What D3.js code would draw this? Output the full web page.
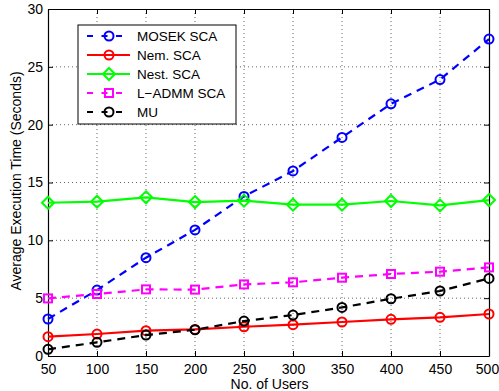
<!DOCTYPE html>
<html lang="en">
<head>
<meta charset="utf-8">
<script src="https://cdn.jsdelivr.net/npm/d3@7"></script>
<style>
	body { margin: 0; background: #fff; }
	text { font-family: "Liberation Sans", Arial, sans-serif; }
</style>
</head>
<body>
<svg id="chart" width="499" height="391"></svg>
<script>
	// users on the x axis
	var users = [50, 100, 150, 200, 250, 300, 350, 400, 450, 500];

	// average execution time (seconds) per method
	var mosek = [3.2, 5.7, 8.5, 10.9, 13.8, 16.0, 18.9, 21.8, 23.9, 27.4];
	var nem = [1.67, 1.9, 2.19, 2.3, 2.53, 2.71, 2.94, 3.17, 3.34, 3.63];
	var nest = [13.25, 13.34, 13.72, 13.31, 13.43, 13.08, 13.08, 13.4, 13.02, 13.48];
	var ladmm = [4.98, 5.36, 5.76, 5.74, 6.19, 6.37, 6.77, 7.09, 7.29, 7.66];
	var mu = [0.58, 1.18, 1.81, 2.27, 3.02, 3.54, 4.2, 4.95, 5.62, 6.71];

	var yTicks = [0, 5, 10, 15, 20, 25, 30];

	var series = [
		{name: "MOSEK SCA", values: mosek, color: "#0000ff", dash: true, marker: "circle"},
		{name: "Nem. SCA", values: nem, color: "#ff0000", dash: false, marker: "circle"},
		{name: "Nest. SCA", values: nest, color: "#00ff00", dash: false, marker: "diamond"},
		{name: "L\u2212ADMM SCA", values: ladmm, color: "#ff00ff", dash: true, marker: "square"},
		{name: "MU", values: mu, color: "#000000", dash: true, marker: "circle"}
	];

	var svg = d3.select("#chart");
	var margin = {top: 9, right: 10, bottom: 35, left: 48};
	var width = 499 - margin.left - margin.right;
	var height = 391 - margin.top - margin.bottom;

	var g = svg.append("g")
		.attr("transform", "translate(" + margin.left + "," + margin.top + ")");

	var x = d3.scaleLinear().domain([50, 500]).range([0, width]);
	var y = d3.scaleLinear().domain([0, 30]).range([height, 0]);

	// dotted grid
	g.append("g").selectAll("line")
		.data(users.slice(1, -1))
		.enter().append("line")
		.attr("x1", function(d){ return x(d) }).attr("x2", function(d){ return x(d) })
		.attr("y1", 0).attr("y2", height)
		.attr("stroke", "#000").attr("stroke-width", 0.6).attr("stroke-dasharray", "1,3");
	g.append("g").selectAll("line")
		.data(yTicks.slice(1, -1))
		.enter().append("line")
		.attr("y1", function(d){ return y(d) }).attr("y2", function(d){ return y(d) })
		.attr("x1", 0).attr("x2", width)
		.attr("stroke", "#000").attr("stroke-width", 0.6).attr("stroke-dasharray", "1,3");

	// axes with inward ticks (matlab style box)
	var xAxis = g.append("g")
		.attr("transform", "translate(0," + height + ")")
		.call(d3.axisBottom(x).tickValues(users).tickSize(-5).tickPadding(8).tickSizeOuter(0));
	g.append("g")
		.call(d3.axisLeft(y).tickValues(yTicks).tickSize(-5).tickPadding(5).tickSizeOuter(0));
	g.append("g")
		.call(d3.axisTop(x).tickValues(users).tickSize(-5).tickFormat("").tickSizeOuter(0));
	g.append("g")
		.attr("transform", "translate(" + width + ",0)")
		.call(d3.axisRight(y).tickValues(yTicks).tickSize(-5).tickFormat("").tickSizeOuter(0));

	g.selectAll(".domain").attr("stroke", "#000").attr("stroke-width", 1.2);
	g.selectAll(".tick line").attr("stroke", "#000");
	g.selectAll(".tick text").attr("font-size", 14).attr("fill", "#000")
		.style("font-family", "'Liberation Sans', Arial, sans-serif");

	// keep the last label inside the window
	xAxis.selectAll(".tick text").filter(function(d){ return d === 500 }).attr("dx", -2);

	var line = d3.line()
		.x(function(d, i){ return x(users[i]) })
		.y(function(d){ return y(d) });

	function drawMarker(sel, type, cx, cy, color) {
		if (type === "circle") {
			sel.append("circle").attr("cx", cx).attr("cy", cy).attr("r", 4.5)
				.attr("fill", "none").attr("stroke", color).attr("stroke-width", 2);
		} else if (type === "diamond") {
			var s = 6;
			sel.append("path")
				.attr("d", "M" + cx + "," + (cy - s) + "L" + (cx + s) + "," + cy + "L" + cx + "," + (cy + s) + "L" + (cx - s) + "," + cy + "Z")
				.attr("fill", "none").attr("stroke", color).attr("stroke-width", 2);
		} else {
			sel.append("rect").attr("x", cx - 4).attr("y", cy - 4).attr("width", 8).attr("height", 8)
				.attr("fill", "none").attr("stroke", color).attr("stroke-width", 2);
		}
	}

	// draw in order so later series sit on top
	series.forEach(function(s) {
		g.append("path")
			.datum(s.values)
			.attr("d", line)
			.attr("fill", "none")
			.attr("stroke", s.color)
			.attr("stroke-width", 2.2)
			.attr("stroke-dasharray", s.dash ? "8,6" : null);
		var mg = g.append("g");
		s.values.forEach(function(v, i) {
			drawMarker(mg, s.marker, x(users[i]), y(v), s.color);
		});
	});

	// axis titles
	svg.append("text")
		.attr("x", margin.left + width / 2 + 1).attr("y", 389)
		.attr("text-anchor", "middle").attr("font-size", 14)
		.text("No. of Users");
	svg.append("text")
		.attr("transform", "translate(21,181) rotate(-90)")
		.attr("text-anchor", "middle").attr("font-size", 14)
		.text("Average Execution Time (Seconds)");

	// legend
	var legend = svg.append("g").attr("transform", "translate(78,25)");
	legend.append("rect").attr("width", 158).attr("height", 99)
		.attr("fill", "#fff").attr("stroke", "#000").attr("stroke-width", 1);
	series.forEach(function(s, i) {
		var ly = 11 + i * 19;
		legend.append("line")
			.attr("x1", 9).attr("x2", 52).attr("y1", ly).attr("y2", ly)
			.attr("stroke", s.color).attr("stroke-width", 2.2)
			.attr("stroke-dasharray", s.dash ? "6,8.5" : null);
		drawMarker(legend, s.marker, 31, ly, s.color);
		legend.append("text")
			.attr("x", 59).attr("y", ly + 5)
			.attr("font-size", 13.5)
			.text(s.name);
	});
</script>
</body>
</html>
